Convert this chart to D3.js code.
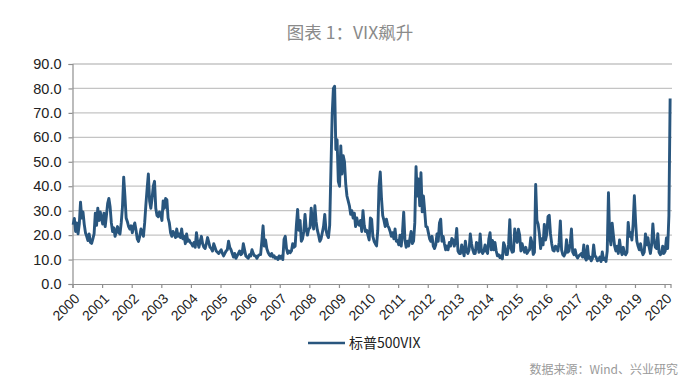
<!DOCTYPE html>
<html>
<head>
<meta charset="utf-8">
<style>
	body{margin:0;background:#fff;}
	svg{display:block;}
</style>
<script src="https://cdn.jsdelivr.net/npm/d3@7"></script>
</head>
<body>
<div id="chart"></div>
<script>
	var title = '图表 1：VIX飙升';
	var legendLabel = '标普500VIX';
	var sourceText = '数据来源：Wind、兴业研究';

	var years = [2000, 2001, 2002, 2003, 2004, 2005, 2006, 2007, 2008, 2009, 2010,
		2011, 2012, 2013, 2014, 2015, 2016, 2017, 2018, 2019, 2020];
	var yTicks = [0, 10, 20, 30, 40, 50, 60, 70, 80, 90];

	// two readings per month (first half, second half)
	var vix2000 = [24.2, 26.8, 21.5, 25.0, 20.5, 24.5, 33.5, 27.0, 29.5, 24.5, 21.0, 19.5,
		17.8, 20.5, 17.0, 16.6, 18.5, 20.5, 29.0, 24.0, 31.0, 26.0, 29.5, 26.8];
	var vix2001 = [24.5, 29.0, 23.5, 28.0, 33.0, 35.0, 31.5, 25.0, 21.5, 23.0, 19.5, 21.5,
		23.5, 21.0, 20.5, 25.0, 31.5, 43.7, 36.0, 27.0, 25.5, 23.5, 22.5, 23.8];
	var vix2002 = [21.0, 23.5, 25.0, 22.0, 18.5, 17.4, 19.5, 22.5, 21.0, 19.5, 25.0, 32.5,
		39.0, 45.0, 34.0, 31.0, 35.0, 40.0, 42.0, 31.0, 28.0, 27.5, 29.5, 28.5];
	var vix2003 = [26.0, 34.0, 31.0, 35.0, 34.5, 27.0, 25.0, 21.0, 19.5, 21.5, 20.5, 19.0,
		22.5, 19.5, 20.5, 19.0, 22.5, 18.5, 19.5, 16.5, 20.5, 17.5, 18.0, 17.0];
	var vix2004 = [16.5, 15.5, 17.0, 15.0, 21.0, 17.0, 15.0, 17.5, 19.5, 16.5, 15.0, 14.5,
		16.5, 19.0, 17.0, 15.0, 14.5, 13.5, 16.5, 15.0, 13.5, 13.0, 12.5, 13.3];
	var vix2005 = [14.0, 12.5, 11.5, 12.5, 13.5, 14.0, 17.5, 15.0, 14.0, 12.5, 11.0, 12.5,
		10.5, 11.5, 12.5, 13.5, 12.0, 12.5, 16.5, 14.0, 11.5, 11.0, 10.5, 12.0];
	var vix2006 = [11.5, 14.0, 12.5, 11.5, 11.5, 10.5, 11.5, 12.0, 12.0, 17.5, 23.8, 15.5,
		18.0, 14.5, 13.0, 12.0, 11.5, 12.5, 11.0, 11.5, 10.5, 10.8, 10.0, 11.5];
	var vix2007 = [10.5, 11.5, 10.0, 18.3, 19.5, 14.5, 12.5, 13.5, 12.8, 13.5, 16.5, 15.0,
		15.5, 24.0, 30.5, 22.0, 26.0, 17.5, 18.5, 21.5, 28.5, 22.5, 20.0, 22.5];
	var vix2008 = [23.0, 31.0, 25.5, 22.5, 32.0, 25.5, 22.0, 20.0, 17.5, 18.5, 21.0, 23.5,
		28.5, 22.0, 20.0, 19.0, 24.0, 46.5, 69.0, 80.0, 80.9, 55.0, 59.0, 42.0];
	var vix2009 = [40.0, 56.5, 45.0, 52.5, 50.0, 41.0, 36.0, 34.0, 32.0, 28.5, 30.0, 27.0,
		29.0, 23.5, 27.0, 24.5, 24.0, 26.0, 21.5, 30.0, 24.0, 21.5, 22.0, 20.0];
	var vix2010 = [18.0, 27.0, 26.5, 19.5, 17.5, 16.5, 15.6, 22.0, 40.0, 45.8, 35.0, 28.0,
		26.0, 23.5, 26.5, 24.0, 23.0, 21.5, 19.5, 21.0, 18.5, 22.5, 17.5, 17.8];
	var vix2011 = [16.0, 20.0, 15.5, 21.0, 29.4, 18.0, 15.0, 17.5, 15.5, 18.5, 21.5, 16.5,
		17.5, 25.0, 48.0, 36.0, 43.0, 32.0, 45.5, 29.5, 36.0, 30.0, 23.5, 23.4];
	var vix2012 = [21.0, 18.5, 17.5, 19.5, 15.5, 14.5, 16.0, 20.5, 17.5, 25.0, 26.5, 17.5,
		19.5, 16.5, 14.0, 15.5, 14.0, 17.0, 15.5, 18.6, 18.0, 15.5, 17.5, 22.7];
	var vix2013 = [13.5, 12.5, 12.5, 16.0, 13.5, 11.5, 17.5, 13.5, 12.5, 14.0, 20.5, 16.5,
		14.0, 12.5, 12.5, 17.0, 16.5, 13.0, 20.5, 13.5, 12.5, 13.5, 16.0, 13.5];
	var vix2014 = [12.5, 18.4, 21.0, 14.0, 17.8, 14.0, 17.0, 13.5, 11.5, 12.0, 10.8, 11.5,
		10.3, 16.9, 15.5, 12.0, 12.0, 16.0, 26.3, 14.5, 13.0, 13.3, 22.5, 19.0];
	var vix2015 = [17.0, 22.4, 20.0, 13.5, 16.5, 14.5, 13.0, 15.0, 12.5, 13.5, 14.0, 18.9,
		16.8, 12.1, 13.0, 40.7, 26.0, 24.5, 20.5, 14.5, 18.5, 16.0, 24.4, 18.0];
	var vix2016 = [20.5, 27.6, 28.1, 20.5, 16.5, 13.8, 13.5, 15.5, 15.0, 13.5, 17.0, 25.8,
		14.0, 12.0, 11.5, 12.5, 18.1, 13.0, 13.5, 16.5, 22.5, 13.0, 12.0, 14.0];
	var vix2017 = [11.5, 10.6, 11.5, 12.0, 12.5, 11.0, 16.0, 10.8, 9.8, 15.6, 10.5, 11.0,
		9.5, 10.5, 16.0, 11.5, 11.0, 9.5, 9.8, 11.0, 9.2, 13.1, 10.0, 10.5];
	var vix2018 = [9.2, 13.5, 37.3, 19.5, 16.0, 24.9, 20.0, 15.5, 13.5, 15.5, 12.5, 18.0,
		14.0, 12.0, 15.0, 12.5, 12.0, 13.0, 25.2, 19.5, 21.0, 18.0, 24.5, 36.1];
	var vix2019 = [25.5, 17.5, 15.5, 14.0, 16.5, 13.5, 12.0, 13.0, 20.5, 16.0, 18.9, 15.0,
		12.5, 16.0, 24.6, 18.0, 15.0, 14.5, 20.6, 13.0, 12.0, 12.5, 15.5, 12.5];
	var vix2020 = [13.5, 18.8, 14.5, 27.9, 75.9];

	var vixByYear = [vix2000, vix2001, vix2002, vix2003, vix2004, vix2005, vix2006,
		vix2007, vix2008, vix2009, vix2010, vix2011, vix2012, vix2013, vix2014,
		vix2015, vix2016, vix2017, vix2018, vix2019, vix2020];

	var vixChart = {
		elem : null,
		svg : null,
		x : null,
		y : null,
		data : [],
		init : function(elem){
			this.elem = elem;
			this.svg = d3.select(elem)
				.append('svg')
				.attr('width', 700)
				.attr('height', 383)
				.style('background', '#fff');

			this.x = d3.scaleLinear().domain([2000, 2020.2]).range([72.5, 670.5]);
			this.y = d3.scaleLinear().domain([0, 90]).range([284, 64]);

			this.createData();
			this.drawTitle();
			this.drawGrid();
			this.drawAxes();
			this.drawLine();
			this.drawLegend();
		},
		createData : function(){
			this.data = [];
			for(var i = 0; i < vixByYear.length; i++){
				var list = vixByYear[i];
				for(var j = 0; j < list.length; j++){
					//half month steps
					this.data.push({ t : years[i] + (j + 0.5) / 24, v : list[j] });
				}
			}
		},
		drawTitle : function(){
			this.svg.append('text')
				.attr('x', 350)
				.attr('y', 33)
				.attr('dy', '0.35em')
				.attr('text-anchor', 'middle')
				.style('font-family', '"Noto Sans CJK SC", sans-serif')
				.style('font-size', '17.5px')
				.style('fill', '#8a8a8a')
				.text(title);
		},
		drawGrid : function(){
			var _self = this;
			this.svg.append('g')
				.attr('class', 'grid')
				.selectAll('line')
				.data(yTicks.slice(1))
				.enter()
				.append('line')
				.attr('x1', this.x.range()[0])
				.attr('x2', 672)
				.attr('y1', function(d){ return _self.y(d); })
				.attr('y2', function(d){ return _self.y(d); })
				.style('stroke', '#c4c4c4')
				.style('stroke-width', 1.3);
		},
		drawAxes : function(){
			var yAxis = d3.axisLeft(this.y)
				.tickValues(yTicks)
				.tickSize(4)
				.tickPadding(7)
				.tickFormat(d3.format('.1f'));

			var gy = this.svg.append('g')
				.attr('transform', 'translate(' + this.x.range()[0] + ',0)')
				.call(yAxis);
			gy.selectAll('path, line').style('stroke', '#8f8f8f').style('stroke-width', 1.2);
			gy.selectAll('text')
				.style('font-family', '"Liberation Sans", Arial, sans-serif')
				.style('font-size', '14.5px')
				.style('fill', '#222');

			var xAxis = d3.axisBottom(this.x)
				.tickValues(years)
				.tickSize(4)
				.tickFormat(function(d){ return String(d); });

			var gx = this.svg.append('g')
				.attr('transform', 'translate(0,' + this.y(0) + ')')
				.call(xAxis);
			gx.selectAll('path, line').style('stroke', '#8f8f8f').style('stroke-width', 1.2);
			gx.selectAll('text')
				.attr('x', 0)
				.attr('y', 0)
				.attr('dy', '0.35em')
				.attr('transform', 'translate(4,12) rotate(-45)')
				.style('text-anchor', 'end')
				.style('font-family', '"Liberation Sans", Arial, sans-serif')
				.style('font-size', '14px')
				.style('fill', '#222');
		},
		drawLine : function(){
			var _self = this;
			var line = d3.line()
				.x(function(d){ return _self.x(d.t); })
				.y(function(d){ return _self.y(d.v); });

			this.svg.append('path')
				.datum(this.data)
				.attr('d', line)
				.style('fill', 'none')
				.style('stroke', '#29567e')
				.style('stroke-width', 2.9)
				.style('stroke-linejoin', 'round');
		},
		drawLegend : function(){
			var g = this.svg.append('g').attr('class', 'legend');
			g.append('line')
				.attr('x1', 308)
				.attr('x2', 345)
				.attr('y1', 343)
				.attr('y2', 343)
				.style('stroke', '#29567e')
				.style('stroke-width', 2.6);
			g.append('text')
				.attr('x', 349)
				.attr('y', 343)
				.attr('dy', '0.35em')
				.style('font-family', '"Noto Sans CJK SC", sans-serif')
				.style('font-size', '14px')
				.style('fill', '#222')
				.text(legendLabel);

			this.svg.append('text')
				.attr('x', 678)
				.attr('y', 370)
				.attr('dy', '0.35em')
				.attr('text-anchor', 'end')
				.style('font-family', '"Noto Sans CJK SC", sans-serif')
				.style('font-size', '12px')
				.style('fill', '#9a9a9a')
				.text(sourceText);
		}
	};

	vixChart.init(document.getElementById('chart'));
</script>
</body>
</html>
